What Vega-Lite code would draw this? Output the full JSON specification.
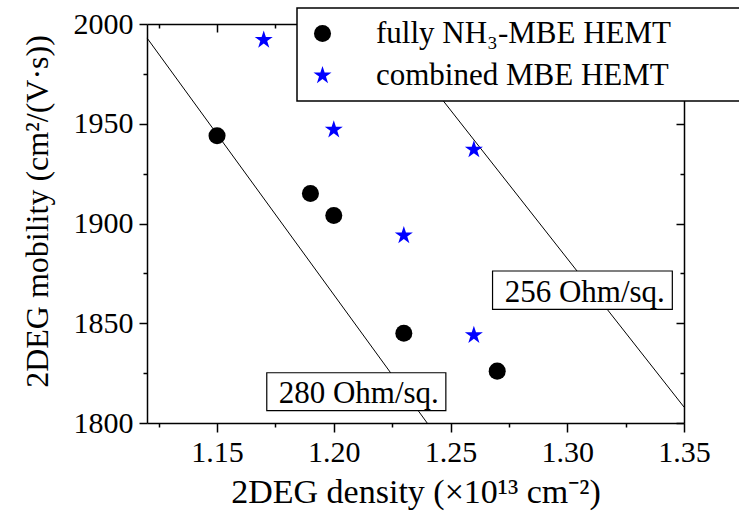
{
  "$schema": "https://vega.github.io/schema/vega-lite/v6.json",
  "width": 537,
  "height": 399,
  "autosize": {"type": "none"},
  "padding": {"left": 147, "top": 24, "right": 55, "bottom": 98},
  "background": "white",
  "config": {
    "font": "Liberation Serif",
    "view": {"stroke": null},
    "axis": {
      "grid": false,
      "domainColor": "black",
      "domainWidth": 1.5,
      "tickColor": "black",
      "tickWidth": 1.5,
      "labelColor": "black",
      "titleColor": "black",
      "labelFont": "Liberation Serif",
      "titleFont": "Liberation Serif",
      "labelFontSize": 30,
      "titleFontSize": 34,
      "titleFontWeight": "normal",
      "labelFlush": false,
      "labelOverlap": false
    },
    "legend": {
      "orient": "none",
      "legendX": 150,
      "legendY": -16,
      "padding": 10,
      "strokeColor": "black",
      "strokeWidth": 1.5,
      "fillColor": "white",
      "symbolSize": 190,
      "symbolStrokeWidth": 0,
      "labelFont": "Liberation Serif",
      "labelFontSize": 31,
      "labelColor": "black",
      "labelOffset": 38,
      "labelLimit": 800,
      "rowPadding": 10
    }
  },
  "datasets": {
    "pts": [
      {"series": "fully NH₃-MBE HEMT", "n": 1.15, "mu": 1944},
      {"series": "fully NH₃-MBE HEMT", "n": 1.19, "mu": 1915},
      {"series": "fully NH₃-MBE HEMT", "n": 1.20, "mu": 1904},
      {"series": "fully NH₃-MBE HEMT", "n": 1.23, "mu": 1845},
      {"series": "fully NH₃-MBE HEMT", "n": 1.27, "mu": 1826},
      {"series": "combined MBE HEMT", "n": 1.17, "mu": 1992},
      {"series": "combined MBE HEMT", "n": 1.20, "mu": 1947},
      {"series": "combined MBE HEMT", "n": 1.23, "mu": 1894},
      {"series": "combined MBE HEMT", "n": 1.26, "mu": 1937},
      {"series": "combined MBE HEMT", "n": 1.26, "mu": 1844}
    ],
    "lines": [
      {"R": "280", "n": 1.12, "mu": 1993},
      {"R": "280", "n": 1.24, "mu": 1800},
      {"R": "256", "n": 1.221, "mu": 2000},
      {"R": "256", "n": 1.35, "mu": 1808}
    ],
    "boxes": [
      {"x1": 1.1713, "x2": 1.248, "y1": 1806.2, "y2": 1825.2, "tx": 1.2107, "ty": 1810, "label": "280 Ohm/sq."},
      {"x1": 1.268, "x2": 1.345, "y1": 1857, "y2": 1876.2, "tx": 1.3075, "ty": 1860.8, "label": "256 Ohm/sq."}
    ]
  },
  "layer": [
    {
      "data": {"name": "lines"},
      "mark": {"type": "line", "color": "black", "strokeWidth": 1},
      "encoding": {
        "x": {
          "field": "n", "type": "quantitative",
          "scale": {"domain": [1.12, 1.35], "nice": false, "zero": false},
          "axis": {"orient": "bottom", "values": [1.15, 1.2, 1.25, 1.3, 1.35], "format": ".2f", "tickSize": 9, "labelPadding": 5, "title": "2DEG density (×10¹³ cm⁻²)", "titlePadding": 8}
        },
        "y": {
          "field": "mu", "type": "quantitative",
          "scale": {"domain": [1800, 2000], "nice": false, "zero": false},
          "axis": {"orient": "left", "values": [1800, 1850, 1900, 1950, 2000], "format": "d", "tickSize": 8, "labelPadding": 6, "title": "2DEG mobility (cm²/(V·s))", "titleFontSize": 32, "titleY": 187, "titlePadding": 19}
        },
        "detail": {"field": "R"}
      }
    },
    {
      "data": {"name": "boxes"},
      "mark": {"type": "rect", "fill": "white", "stroke": "black", "strokeWidth": 1.2},
      "encoding": {
        "x": {
          "field": "x1", "type": "quantitative",
          "scale": {"domain": [1.12, 1.35], "nice": false, "zero": false},
          "axis": {"orient": "top", "values": [1.15, 1.2, 1.25, 1.3, 1.35], "labels": false, "tickSize": -8, "title": null}
        },
        "x2": {"field": "x2"},
        "y": {
          "field": "y1", "type": "quantitative",
          "scale": {"domain": [1800, 2000], "nice": false, "zero": false},
          "axis": {"orient": "right", "values": [1800, 1850, 1900, 1950, 2000], "labels": false, "tickSize": -8, "title": null}
        },
        "y2": {"field": "y2"}
      }
    },
    {
      "data": {"name": "boxes"},
      "mark": {"type": "text", "font": "Liberation Serif", "fontSize": 31, "color": "black", "align": "center", "baseline": "alphabetic"},
      "encoding": {
        "x": {
          "field": "tx", "type": "quantitative",
          "scale": {"domain": [1.12, 1.35], "nice": false, "zero": false},
          "axis": {"orient": "bottom", "values": [1.125, 1.175, 1.225, 1.275, 1.325], "labels": false, "domain": false, "tickSize": 4, "title": null}
        },
        "y": {
          "field": "ty", "type": "quantitative",
          "scale": {"domain": [1800, 2000], "nice": false, "zero": false},
          "axis": {"orient": "left", "values": [1825, 1875, 1925, 1975], "labels": false, "domain": false, "tickSize": 4, "title": null}
        },
        "text": {"field": "label"}
      }
    },
    {
      "data": {"name": "pts"},
      "mark": {"type": "point", "filled": true, "opacity": 1, "strokeWidth": 0},
      "encoding": {
        "x": {
          "field": "n", "type": "quantitative",
          "scale": {"domain": [1.12, 1.35], "nice": false, "zero": false},
          "axis": {"orient": "top", "values": [1.125, 1.175, 1.225, 1.275, 1.325], "labels": false, "domain": false, "tickSize": -4, "title": null}
        },
        "y": {
          "field": "mu", "type": "quantitative",
          "scale": {"domain": [1800, 2000], "nice": false, "zero": false},
          "axis": {"orient": "right", "values": [1825, 1875, 1925, 1975], "labels": false, "domain": false, "tickSize": -4, "title": null}
        },
        "color": {
          "field": "series", "type": "nominal",
          "scale": {"domain": ["fully NH₃-MBE HEMT", "combined MBE HEMT"], "range": ["black", "#0000ff"]},
          "legend": {"title": null, "labelExpr": "datum.label + '\u2800\u2800\u2800'"}
        },
        "shape": {
          "field": "series", "type": "nominal",
          "scale": {"domain": ["fully NH₃-MBE HEMT", "combined MBE HEMT"], "range": ["circle", "M0,-1L0.2245,-0.309L0.951,-0.309L0.363,0.118L0.588,0.809L0,0.382L-0.588,0.809L-0.363,0.118L-0.951,-0.309L-0.2245,-0.309Z"]},
          "legend": {"title": null, "labelExpr": "datum.label + '\u2800\u2800\u2800'"}
        },
        "size": {
          "field": "series", "type": "nominal",
          "scale": {"domain": ["fully NH₃-MBE HEMT", "combined MBE HEMT"], "range": [290, 360]},
          "legend": null
        }
      }
    }
  ],
  "resolve": {"axis": {"x": "independent", "y": "independent"}}
}
